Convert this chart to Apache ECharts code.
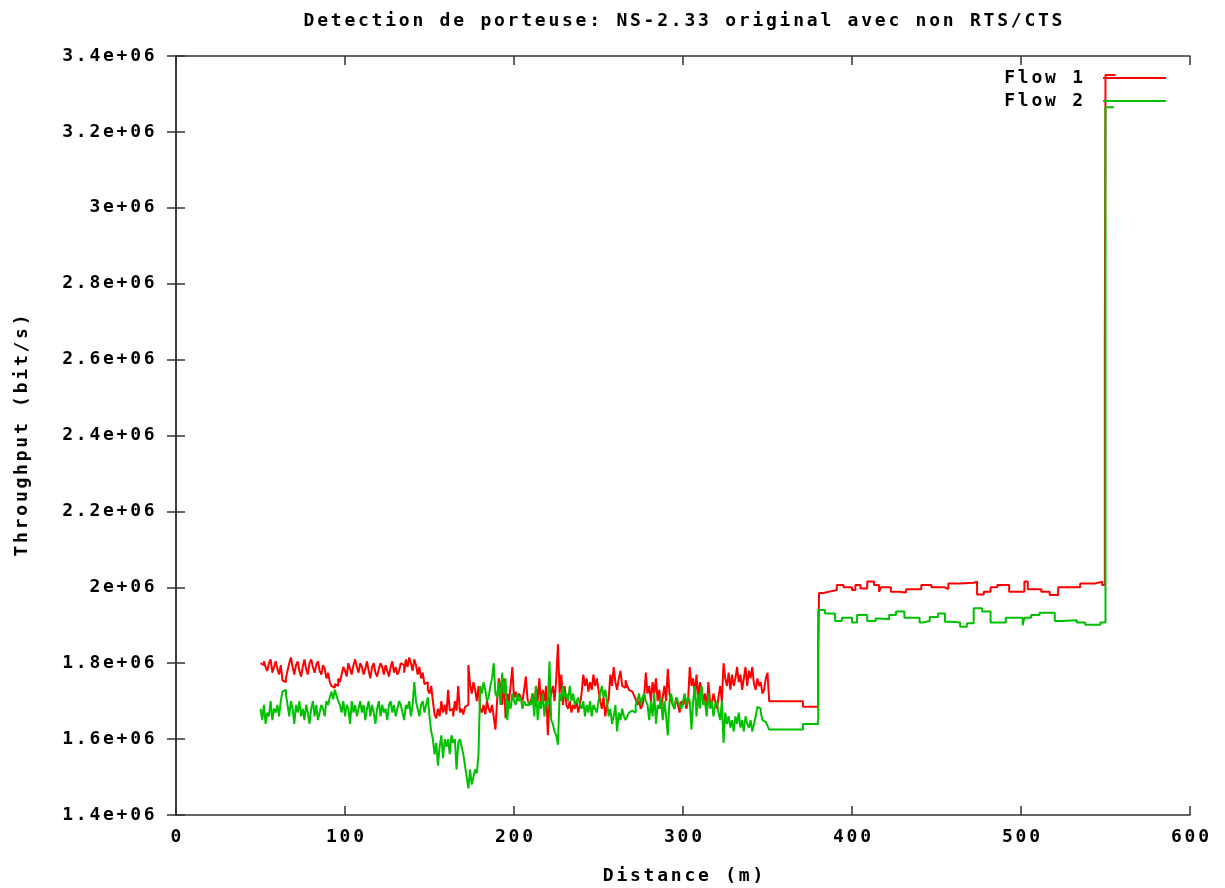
<!DOCTYPE html>
<html>
<head>
<meta charset="utf-8">
<script src="https://cdn.jsdelivr.net/npm/echarts@6/dist/echarts.min.js"></script>
<style>
html,body{margin:0;padding:0;background:#fff;overflow:hidden;}
#chart{width:1225px;height:888px;}
</style>
</head>
<body>
<div id="chart"></div>
<script>
// ---------- DATA ----------
const titleText = 'Detection de porteuse: NS-2.33 original avec non RTS/CTS';
const xAxisTitle = 'Distance (m)';
const yAxisTitle = 'Throughput (bit/s)';
const seriesNames = ['Flow 1', 'Flow 2'];
const xTickLabels = ['0', '100', '200', '300', '400', '500', '600'];
const yTickLabels = ['1.4e+06', '1.6e+06', '1.8e+06', '2e+06', '2.2e+06', '2.4e+06', '2.6e+06', '2.8e+06', '3e+06', '3.2e+06', '3.4e+06'];

// dense section: one sample per metre starting at 50 m (throughput in kbit/s)
const denseStartM = 50;
const flow1DenseKbps = [
  1800,1795,1805,1790,1780,1800,1810,1775,1790,1805,
  1785,1770,1795,1755,1750,1760,1780,1800,1815,1790,
  1770,1795,1805,1780,1765,1790,1810,1785,1770,1800,
  1810,1790,1775,1795,1805,1780,1770,1795,1785,1760,
  1775,1750,1740,1735,1745,1740,1760,1750,1770,1790,
  1780,1765,1800,1785,1770,1795,1810,1790,1775,1800,
  1790,1770,1785,1805,1780,1760,1790,1800,1775,1765,
  1785,1800,1790,1770,1795,1780,1765,1790,1805,1775,
  1790,1770,1780,1800,1795,1775,1810,1790,1815,1800,
  1780,1810,1795,1770,1790,1760,1775,1745,1750,1730,
  1720,1740,1700,1665,1655,1680,1660,1700,1670,1690,
  1665,1730,1675,1680,1660,1700,1675,1740,1670,1680,
  1665,1685,1690,1795,1745,1720,1750,1730,1700,1740,
  1680,1670,1690,1665,1700,1680,1670,1690,1660,1625,
  1700,1760,1740,1690,1760,1655,1720,1700,1740,1790,
  1710,1725,1700,1720,1710,1700,1730,1765,1705,1690,
  1700,1720,1680,1740,1700,1760,1690,1730,1700,1740,
  1610,1700,1720,1740,1700,1760,1850,1720,1770,1690,
  1740,1690,1680,1700,1670,1690,1680,1700,1670,1690,
  1720,1770,1740,1760,1725,1750,1730,1770,1740,1760,
  1730,1700,1680,1710,1660,1690,1705,1770,1740,1790,
  1750,1730,1760,1780,1740,1735,1755,1740,1730,1725,
  1720,1715,1705,1690,1700,1680,1690,1710,1775,1720,
  1740,1700,1750,1720,1760,1700,1730,1680,1710,1740,
  1700,1785,1720,1700,1690,1680,1710,1690,1670,1700,
  1690,1710,1680,1700,1790,1740,1760,1720,1770,1700,
  1750,1730,1700,1720,1680,1750,1700,1690,1720,1700,
  1680,1710,1740,1700,1800,1760,1740,1775,1730,1770,
  1740,1760,1790,1750,1770,1730,1760,1790,1740,1780,
  1760,1790,1745,1730,1760,1740,1750,1720,1730,1760,
  1775,1700,1700
];
const flow2DenseKbps = [
  1680,1650,1690,1640,1670,1660,1700,1650,1680,1670,
  1690,1660,1700,1725,1730,1720,1690,1660,1700,1680,
  1640,1690,1670,1700,1660,1680,1650,1690,1670,1640,
  1680,1700,1660,1690,1650,1670,1690,1680,1660,1700,
  1690,1710,1725,1705,1730,1715,1700,1690,1670,1700,
  1660,1690,1680,1640,1700,1670,1690,1660,1680,1700,
  1670,1690,1650,1680,1700,1660,1690,1670,1640,1680,
  1700,1660,1690,1670,1680,1650,1690,1700,1670,1690,
  1660,1680,1700,1690,1670,1650,1690,1680,1700,1660,
  1690,1750,1700,1680,1660,1690,1700,1670,1690,1710,
  1660,1620,1600,1560,1590,1530,1580,1610,1550,1600,
  1580,1600,1560,1610,1590,1600,1520,1590,1600,1580,
  1560,1530,1500,1470,1520,1480,1500,1520,1510,1560,
  1740,1720,1750,1730,1700,1710,1740,1760,1800,1720,
  1710,1750,1690,1775,1720,1760,1650,1700,1680,1720,
  1700,1690,1720,1700,1710,1680,1700,1690,1690,1700,
  1690,1720,1660,1740,1650,1700,1680,1720,1660,1700,
  1690,1805,1650,1640,1620,1610,1585,1720,1700,1740,
  1710,1720,1700,1740,1700,1720,1690,1700,1710,1690,
  1680,1700,1660,1690,1670,1700,1660,1690,1680,1670,
  1700,1720,1740,1710,1730,1700,1660,1680,1640,1660,
  1690,1620,1670,1650,1680,1660,1650,1660,1670,1675,
  1680,1670,1690,1700,1720,1690,1710,1720,1700,1690,
  1650,1700,1660,1720,1640,1690,1680,1710,1650,1700,
  1660,1610,1700,1720,1690,1680,1710,1700,1690,1680,
  1700,1720,1690,1710,1700,1625,1700,1740,1660,1720,
  1680,1740,1690,1700,1660,1720,1680,1700,1660,1690,
  1700,1670,1650,1700,1590,1670,1640,1660,1630,1650,
  1620,1660,1640,1670,1630,1650,1620,1660,1640,1630,
  1650,1620,1640,1660,1685,1680,1670,1650,1645,1640,
  1635,1625,1625
];

// sparse section (distance m, throughput kbit/s) where the value changes
const flow1TailDistance = [371,380,380.5,383,386,391,395,400,402,405,409,413,416,417,423,428,432,441,447,455,457,464,472,474,478,482,486,493,502,504,512,517,522,535,544,548,549.6,550,556];
const flow1TailKbps     = [1685,1830,1985,1988,1993,2006,2000,1993,2006,1997,2015,2006,1988,2000,1988,1986,1995,2006,2000,1995,2010,2012,2015,1981,1988,2000,2006,1988,2015,1995,1988,1980,2000,2010,2015,2006,2640,3350,3350];
const flow2TailDistance = [371,380,384,390,394,400,403,409,414,416,422,426,431,440,442,446,451,455,459,464,468,472,477,482,491,501,502,506,511,520,524,533,538,547,550,555];
const flow2TailKbps     = [1640,1940,1931,1911,1920,1907,1927,1911,1918,1916,1927,1936,1920,1907,1911,1922,1931,1909,1907,1896,1905,1945,1936,1907,1920,1900,1920,1927,1933,1911,1913,1907,1901,1907,3265,3265];

// ---------- BUILD ----------
function buildSeries(dense, tailX, tailY) {
  const out = [];
  dense.forEach((v, i) => out.push([denseStartM + i, v * 1000]));
  tailX.forEach((x, i) => out.push([x, tailY[i] * 1000]));
  return out;
}
const flow1Data = buildSeries(flow1DenseKbps, flow1TailDistance, flow1TailKbps);
const flow2Data = buildSeries(flow2DenseKbps, flow2TailDistance, flow2TailKbps);

const FONT = 'DejaVu Sans Mono';
const CELL = 13.6;
const FS = 18;
function spread(s) {
  return s.split('').map(ch => '{c|' + ch + '}').join('');
}
function richStyle(size) {
  return { c: { width: CELL, align: 'center', fontFamily: FONT, fontWeight: 'bold', fontSize: size, color: '#000' } };
}

const xLabelMap = {};
xTickLabels.forEach(l => { xLabelMap[Number(l)] = l; });
const yLabelMap = {};
yTickLabels.forEach(l => { yLabelMap[Math.round(Number(l))] = l; });

const chart = echarts.init(document.getElementById('chart'), null, { renderer: 'canvas', width: 1225, height: 888 });

const axisLine = { show: true, lineStyle: { color: '#333', width: 1.5 } };
const axisTick = { show: true, inside: true, length: 9, lineStyle: { color: '#333', width: 1.5 } };

const option = {
  animation: false,
  backgroundColor: '#fff',
  title: {
    text: spread(titleText),
    left: 678,
    textAlign: 'center',
    top: 7,
    textStyle: { rich: richStyle(FS) }
  },
  legend: {
    orient: 'vertical',
    right: 54,
    top: 64,
    align: 'right',
    itemWidth: 63,
    itemHeight: 2,
    itemGap: 5,
    icon: 'rect',
    data: seriesNames,
    formatter: name => spread(name + ' '),
    textStyle: { rich: richStyle(FS) }
  },
  grid: { left: 176, right: 35, top: 56, bottom: 73, containLabel: false, outerBoundsMode: 'none' },
  xAxis: [
    {
      type: 'value', min: 0, max: 600, interval: 100,
      name: spread(xAxisTitle), nameLocation: 'middle', nameGap: 52,
      nameTextStyle: { rich: richStyle(FS) },
      axisLine, axisTick, splitLine: { show: false },
      axisLabel: { margin: 13, formatter: v => spread(xLabelMap[v] !== undefined ? xLabelMap[v] : String(v)), rich: richStyle(FS) }
    },
    {
      type: 'value', min: 0, max: 600, interval: 100, position: 'top',
      axisLine, axisTick, splitLine: { show: false }, axisLabel: { show: false }
    }
  ],
  yAxis: [
    {
      type: 'value', min: 1400000, max: 3400000, interval: 200000,
      name: spread(yAxisTitle), nameLocation: 'middle', nameGap: 145, nameRotate: 90,
      nameTextStyle: { rich: richStyle(FS) },
      axisLine, axisTick, splitLine: { show: false },
      axisLabel: { margin: 20, formatter: v => spread(yLabelMap[Math.round(v)] || String(v)), rich: richStyle(FS) }
    },
    {
      type: 'value', min: 1400000, max: 3400000, interval: 200000, position: 'right',
      axisLine, axisTick, splitLine: { show: false }, axisLabel: { show: false }
    }
  ],
  series: [
    {
      name: seriesNames[0], type: 'line', step: 'end', data: flow1Data,
      showSymbol: false, symbol: 'none', color: '#ff0000',
      lineStyle: { color: '#ff0000', width: 2 }
    },
    {
      name: seriesNames[1], type: 'line', step: 'end', data: flow2Data,
      showSymbol: false, symbol: 'none', color: '#00c000',
      lineStyle: { color: '#00c000', width: 2 }
    }
  ]
};
chart.setOption(option);
</script>
</body>
</html>
